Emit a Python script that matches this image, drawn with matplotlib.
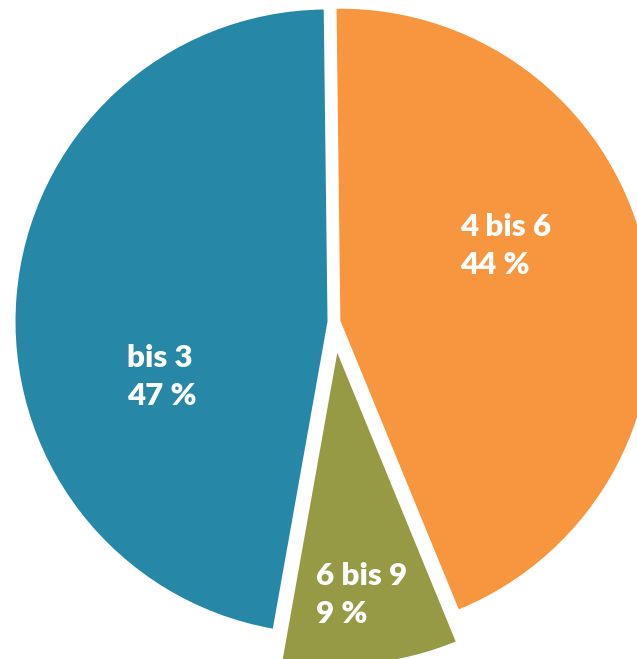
import matplotlib
matplotlib.use('Agg')
import matplotlib.pyplot as plt

LABELS = ['4 bis 6', '6 bis 9', 'bis 3']
SHARES = [44, 9, 47]
COLORS = ['#F7963F', '#969A45', '#2688A6']

W, H = 637, 659


def main():
    fig = plt.figure(figsize=(W / 100, H / 100), dpi=100)
    ax = fig.add_axes([0, 0, 1, 1])

    # work in pixel units, y pointing up; explode is in the same units
    radius = 312
    center = (334, H - 322)
    ax.pie(
        SHARES,
        colors=COLORS,
        startangle=90.7,
        counterclock=False,
        radius=radius,
        center=center,
        explode=[6.5, 31, 6.5],
        wedgeprops={'linewidth': 0},
    )
    ax.set_xlim(0, W)
    ax.set_ylim(0, H)
    ax.set_aspect('equal')
    ax.axis('off')

    # label anchor: left edge, first-line baseline (pixels from top)
    spots = {'4 bis 6': (460, 236), '6 bis 9': (316, 585), 'bis 3': (127, 367)}
    for label, share in zip(LABELS, SHARES):
        x, y = spots[label]
        ax.text(x, H - y, label, color='white', fontsize=22.5, fontweight='heavy',
                family=['Lato', 'DejaVu Sans'], ha='left', va='baseline')
        ax.text(x, H - y - 38, f'{share} %', color='white', fontsize=22.5,
                fontweight='heavy', family=['Lato', 'DejaVu Sans'],
                ha='left', va='baseline')

    fig.savefig('out.png', dpi=100)


if __name__ == '__main__':
    main()
